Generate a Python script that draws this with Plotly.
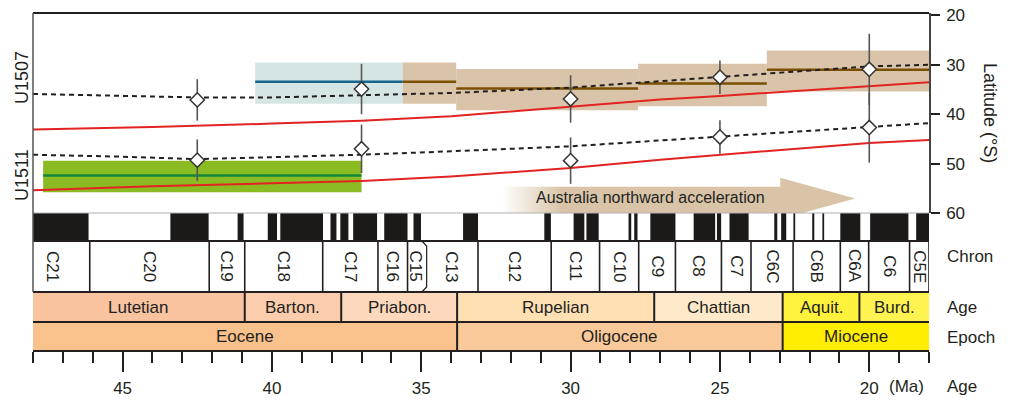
import plotly.graph_objects as go

# ---------------- data ----------------
# mean paleolatitudes with uncertainty (diamonds)
pt_age = [42.5, 37.0, 30.0, 25.0, 20.0]
u1507_lat = [37.1, 34.9, 36.9, 32.5, 30.9]
u1507_err = [4.2, 5.1, 4.8, 3.4, 7.2]
u1511_lat = [49.3, 47.0, 49.4, 44.6, 42.7]
u1511_err = [4.2, 4.9, 4.7, 3.4, 7.1]

# dashed model curves
dash_age = [48, 45, 42.5, 40, 37, 34, 30, 27.5, 25, 22.5, 20, 18]
u1507_dash = [35.9, 36.3, 36.6, 36.6, 36.2, 35.7, 34.6, 33.5, 32.5, 31.3, 30.3, 30.0]
u1511_dash = [48.2, 48.6, 49.1, 48.7, 48.2, 47.5, 46.5, 45.5, 44.5, 43.5, 42.5, 41.8]

# red model curves
red_age = [48, 44, 40, 37, 34, 30, 27, 25, 22, 20, 18]
u1507_red = [43.1, 42.6, 41.9, 41.3, 40.4, 38.5, 37.0, 36.3, 35.1, 34.2, 33.5]
u1511_red = [55.4, 54.6, 54.0, 53.5, 52.6, 50.9, 49.2, 48.2, 46.8, 45.8, 45.2]

# U1507 paleolatitude windows
u1507_box_start = [40.56, 35.62, 33.83, 27.74, 23.43]
u1507_box_end = [35.62, 33.83, 27.74, 23.43, 18.0]
u1507_box_top = [29.5, 29.5, 30.85, 29.8, 27.1]
u1507_box_bottom = [37.9, 37.9, 39.2, 38.4, 35.4]
u1507_box_mean = [33.4, 33.4, 34.8, 33.8, 31.0]
u1507_box_kind = ["blue", "brown", "brown", "brown", "brown"]

# U1511 paleolatitude window
u1511_box_start = [47.66]
u1511_box_end = [37.0]
u1511_box_top = [49.4]
u1511_box_bottom = [55.8]
u1511_box_mean = [52.4]

# arrow "Australia northward acceleration"
arrow_tail_age = 32.3
arrow_base_age = 22.98
arrow_tip_age = 20.47
arrow_body_top = 54.7
arrow_head_top = 52.85
arrow_tip_lat = 57.05
arrow_text = "Australia northward acceleration"

# magnetic polarity (normal = black) intervals, Ma
normal_start = [48.0, 43.40, 41.15, 40.14, 39.72, 38.04, 37.71, 37.28, 36.24, 35.26, 33.60,
                30.88, 29.90, 29.47, 28.06, 27.87, 27.33, 25.88, 25.10, 24.68, 23.18,
                22.95, 22.54, 21.91, 21.57, 20.97, 19.97, 18.43]
normal_end = [46.14, 42.12, 40.95, 39.83, 38.29, 37.84, 37.44, 36.48, 35.46, 35.01, 33.10,
              30.66, 29.54, 29.06, 27.97, 27.76, 26.49, 25.16, 24.96, 24.04, 23.08,
              22.78, 22.48, 21.84, 21.51, 20.30, 18.69, 18.0]

# chron names and boundaries
chron_names = ["C21", "C20", "C19", "C18", "C17", "C16", "C15", "C13", "C12", "C11", "C10",
               "C9", "C8", "C7", "C6C", "C6B", "C6A", "C6", "C5E"]
chron_bounds = [48.6, 46.10, 42.10, 40.91, 38.30, 36.45, 35.46, 34.90, 33.10, 30.65, 29.03,
                27.72, 26.49, 24.95, 23.96, 22.55, 20.97, 20.02, 18.65, 18.0]
bracket_bound = 34.90

# stages
stage_names = ["Lutetian", "Barton.", "Priabon.", "Rupelian", "Chattian", "Aquit.", "Burd."]
stage_bounds = [48.0, 40.91, 37.68, 33.80, 27.20, 22.90, 20.33, 18.0]
stage_colors = ["#f9c3a0", "#fccdad", "#fdd8bc", "#fee0b3", "#fee9ca", "#fff23c", "#fff352"]

# epochs
epoch_names = ["Eocene", "Oligocene", "Miocene"]
epoch_bounds = [48.0, 33.80, 22.90, 18.0]
epoch_colors = ["#f9c18b", "#f9c999", "#ffee00"]

x_ticks = [45, 40, 35, 30, 25, 20]
y_ticks = [20, 30, 40, 50, 60]

# ---------------- layout constants (page pixels) ----------------
PAGE_OFF = 8             # default body margin of the html page
W, H = 1012 - PAGE_OFF, 400 - PAGE_OFF
ML, MR, MT, MB = 33 - PAGE_OFF, 83, 13 - PAGE_OFF, 49
AXIS_Y = 351             # page y of the age axis line
PH = AXIS_Y - 13         # paper height
PLOT_BOTTOM = 213
CHRON_BOTTOM = 241
LABEL_BOTTOM = 292
AGE_BOTTOM = 322
X0, X1 = 48.0, 18.0

INK = "#231f20"
FONT = "Liberation Sans, Arial, Helvetica, sans-serif"


def py(px):
    return (AXIS_Y - px) / PH


def txt(**kw):
    d = dict(showarrow=False, xanchor="center", yanchor="middle")
    d.update(kw)
    return d


fig = go.Figure()

# arrow (gradient filled polygon)
lower_head = arrow_tip_lat + (arrow_tip_lat - arrow_head_top)
frac = (60 - arrow_tip_lat) / (lower_head - arrow_tip_lat)
cut_age = arrow_tip_age + frac * (arrow_base_age - arrow_tip_age)
fig.add_trace(go.Scatter(
    x=[arrow_tail_age, arrow_base_age, arrow_base_age, arrow_tip_age, cut_age, arrow_tail_age, arrow_tail_age],
    y=[arrow_body_top, arrow_body_top, arrow_head_top, arrow_tip_lat, 60, 60, arrow_body_top],
    mode="lines", line=dict(width=0), fill="toself",
    fillgradient=dict(type="horizontal", start=arrow_tail_age, stop=arrow_tip_age,
                      colorscale=[[0, "rgba(217,196,168,0)"], [0.17, "rgba(217,196,168,1)"],
                                  [1, "rgba(217,196,168,1)"]]),
    hoverinfo="skip"))

# red curves
for lat in (u1507_red, u1511_red):
    fig.add_trace(go.Scatter(x=red_age, y=lat, mode="lines",
                             line=dict(color="#e32322", width=2), hoverinfo="skip"))
# dashed curves
for lat in (u1507_dash, u1511_dash):
    fig.add_trace(go.Scatter(x=dash_age, y=lat, mode="lines",
                             line=dict(color=INK, width=2, dash="5px,4px"), hoverinfo="skip"))
# diamonds with error bars
for lat, err in ((u1507_lat, u1507_err), (u1511_lat, u1511_err)):
    fig.add_trace(go.Scatter(
        x=pt_age, y=lat, mode="markers",
        marker=dict(symbol="diamond", size=11, color="white", line=dict(color="#333333", width=1.5)),
        error_y=dict(type="data", array=err, visible=True, color="#555555", thickness=1.6, width=0),
        hoverinfo="skip"))

shapes = []
# boxes
kind_fill = {"blue": "#d5e5e6", "brown": "#d9c4a9"}
kind_line = {"blue": "#15658f", "brown": "#7a5000"}
for s, e, t, b, k in zip(u1507_box_start, u1507_box_end, u1507_box_top, u1507_box_bottom, u1507_box_kind):
    shapes.append(dict(type="rect", xref="x", yref="y", x0=s, x1=e, y0=t, y1=b,
                       fillcolor=kind_fill[k], line=dict(width=0), layer="below"))
for s, e, t, b in zip(u1511_box_start, u1511_box_end, u1511_box_top, u1511_box_bottom):
    shapes.append(dict(type="rect", xref="x", yref="y", x0=s, x1=e, y0=t, y1=b,
                       fillcolor="#8bbb22", line=dict(width=0), layer="below"))
for s, e, m, k in zip(u1507_box_start, u1507_box_end, u1507_box_mean, u1507_box_kind):
    shapes.append(dict(type="line", xref="x", yref="y", x0=s, x1=e, y0=m, y1=m,
                       line=dict(color=kind_line[k], width=2.5), layer="below"))
for s, e, m in zip(u1511_box_start, u1511_box_end, u1511_box_mean):
    shapes.append(dict(type="line", xref="x", yref="y", x0=s, x1=e, y0=m, y1=m,
                       line=dict(color="#11883c", width=2.5), layer="below"))

# chron bar
for s, e in zip(normal_start, normal_end):
    shapes.append(dict(type="rect", xref="x", yref="paper", x0=s, x1=e,
                       y0=py(CHRON_BOTTOM), y1=py(PLOT_BOTTOM), fillcolor="#1b1a19",
                       line=dict(width=0)))
shapes.append(dict(type="line", xref="x", yref="paper", x0=X0, x1=X1,
                   y0=py(PLOT_BOTTOM), y1=py(PLOT_BOTTOM), line=dict(color="#b0b0b0", width=1)))

# age & epoch rows
for i, c in enumerate(stage_colors):
    shapes.append(dict(type="rect", xref="x", yref="paper", x0=stage_bounds[i], x1=stage_bounds[i + 1],
                       y0=py(AGE_BOTTOM), y1=py(LABEL_BOTTOM), fillcolor=c, line=dict(width=0)))
for i, c in enumerate(epoch_colors):
    shapes.append(dict(type="rect", xref="x", yref="paper", x0=epoch_bounds[i], x1=epoch_bounds[i + 1],
                       y0=py(AXIS_Y - 1), y1=py(AGE_BOTTOM), fillcolor=c, line=dict(width=0)))
for b in stage_bounds[1:-1]:
    shapes.append(dict(type="line", xref="x", yref="paper", x0=b, x1=b,
                       y0=py(AGE_BOTTOM), y1=py(LABEL_BOTTOM), line=dict(color=INK, width=2)))
for b in epoch_bounds[1:-1]:
    shapes.append(dict(type="line", xref="x", yref="paper", x0=b, x1=b,
                       y0=py(AXIS_Y), y1=py(AGE_BOTTOM), line=dict(color=INK, width=2)))
shapes.append(dict(type="line", xref="x", yref="paper", x0=X0, x1=X1,
                   y0=py(AGE_BOTTOM), y1=py(AGE_BOTTOM), line=dict(color=INK, width=2)))

# chron label row
for yy in (CHRON_BOTTOM, LABEL_BOTTOM):
    shapes.append(dict(type="line", xref="x", yref="paper", x0=X0, x1=X1,
                       y0=py(yy), y1=py(yy), line=dict(color=INK, width=2)))
for b in chron_bounds[1:-1]:
    if b == bracket_bound:
        continue
    shapes.append(dict(type="line", xref="x", yref="paper", x0=b, x1=b,
                       y0=py(LABEL_BOTTOM), y1=py(CHRON_BOTTOM), line=dict(color=INK, width=1.6)))
shapes.append(dict(type="line", xref="x", yref="paper", x0=X1, x1=X1,
                   y0=py(LABEL_BOTTOM), y1=py(CHRON_BOTTOM), line=dict(color=INK, width=1.6)))
# C15/C13 bracket
bw = 0.08
bx_out = bracket_bound - bw
bx_in = bracket_bound + bw
shapes.append(dict(type="path", xref="x", yref="paper",
                   path=f"M {bx_in},{py(CHRON_BOTTOM)} L {bx_out},{py(CHRON_BOTTOM + 5)} "
                        f"L {bx_out},{py(LABEL_BOTTOM - 5)} L {bx_in},{py(LABEL_BOTTOM)}",
                   line=dict(color=INK, width=1.2)))

# plot frame (top and left)
shapes.append(dict(type="line", xref="paper", yref="paper", x0=0, x1=1, y0=1, y1=1,
                   line=dict(color=INK, width=2)))
shapes.append(dict(type="line", xref="paper", yref="paper", x0=0, x1=0, y0=py(LABEL_BOTTOM), y1=1,
                   line=dict(color="#555555", width=1.5)))

F17 = dict(size=17, color=INK, family=FONT)
F18 = dict(size=18, color=INK, family=FONT)
annotations = []
# arrow text
annotations.append(txt(x=27.34, y=56.9, xref="x", yref="y", text=arrow_text,
                       font=dict(size=16, color=INK, family=FONT)))
# chron labels
for i, n in enumerate(chron_names):
    xc = (chron_bounds[i] + chron_bounds[i + 1]) / 2
    annotations.append(txt(x=xc, y=py((CHRON_BOTTOM + LABEL_BOTTOM) / 2), xref="x", yref="paper",
                           text=n, textangle=90, font=F17))
for i, n in enumerate(stage_names):
    xc = (stage_bounds[i] + stage_bounds[i + 1]) / 2
    annotations.append(txt(x=xc, y=py((LABEL_BOTTOM + AGE_BOTTOM) / 2), xref="x", yref="paper",
                           text=n, font=F17))
for i, n in enumerate(epoch_names):
    xc = (epoch_bounds[i] + epoch_bounds[i + 1]) / 2
    annotations.append(txt(x=xc, y=py((AGE_BOTTOM + AXIS_Y) / 2), xref="x", yref="paper",
                           text=n, font=F17))
# right side labels
for t, ypx in (("Chron", 256.5), ("Age", 307.5), ("Epoch", 337), ("Age", 386)):
    annotations.append(txt(x=1, y=py(ypx), xref="paper", yref="paper", xshift=16,
                           xanchor="left", text=t, font=F17))
annotations.append(txt(x=20, y=py(386), xref="x", yref="paper", xshift=18, xanchor="left",
                       text="(Ma)", font=F17))
# latitude title
annotations.append(txt(x=1, y=py(113), xref="paper", yref="paper", xshift=61, text="Latitude (°S)",
                       textangle=90, font=F18))
# site labels
for t, ypx in (("U1507", 78), ("U1511", 175)):
    annotations.append(txt(x=0, y=py(ypx), xref="paper", yref="paper", xshift=-11, text=t,
                           textangle=-90, font=F18))

fig.update_layout(
    width=W, height=H, margin=dict(l=ML, r=MR, t=MT, b=MB, autoexpand=False),
    paper_bgcolor="white", plot_bgcolor="rgba(0,0,0,0)", showlegend=False,
    font=dict(family=FONT, size=17, color=INK),
    shapes=shapes, annotations=annotations,
    xaxis=dict(range=[X0, X1], anchor="free", position=0, showgrid=False, zeroline=False,
               automargin=False, ticklabeloverflow="allow",
               showline=True, linecolor=INK, linewidth=2,
               ticks="outside", ticklen=20, tickwidth=2, tickcolor=INK,
               tickmode="array", tickvals=x_ticks, ticktext=[str(v) for v in x_ticks],
               ticklabelstandoff=2,
               minor=dict(tickmode="array", tickvals=list(range(18, 49)), ticks="outside",
                          ticklen=11, tickwidth=2, tickcolor=INK)),
    yaxis=dict(domain=[py(PLOT_BOTTOM), 1], range=[60, 19.5], side="right", anchor="x",
               automargin=False, ticklabeloverflow="allow",
               showgrid=False, zeroline=False, showline=True, linecolor="#444444", linewidth=1.5,
               ticks="outside", ticklen=9, tickwidth=2, tickcolor=INK,
               tickmode="array", tickvals=y_ticks, ticklabelstandoff=3),
)

fig.write_html("out.html")
